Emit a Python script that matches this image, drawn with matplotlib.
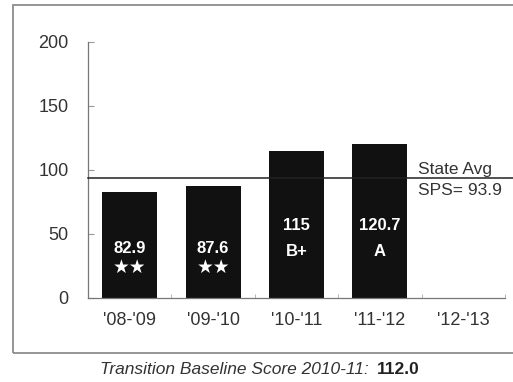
import matplotlib
matplotlib.use("Agg")
import matplotlib.pyplot as plt
from matplotlib.patches import Rectangle

categories = ["'08-'09", "'09-'10", "'10-'11", "'11-'12", "'12-'13"]
values = [82.9, 87.6, 115, 120.7, None]
value_labels = ["82.9", "87.6", "115", "120.7", ""]
grade_labels = ["★★", "★★", "B+", "A", ""]
state_avg = 93.9
yticks = [0, 50, 100, 150, 200]
footer_italic = "Transition Baseline Score 2010-11:"
footer_bold = "112.0"

W, H = 513, 382
plt.rcParams['font.family'] = ['Liberation Sans', 'DejaVu Sans']
fig = plt.figure(figsize=(W / 100, H / 100), dpi=100)

def px(x, y):
    return x / W, 1 - y / H

# outer frame
fig.patches.append(Rectangle(px(13, 353), (530 - 13) / W, (353 - 5) / H,
                             transform=fig.transFigure, fill=False,
                             edgecolor='#8c8c8c', linewidth=1.3, clip_on=True))

ax_l, ax_r, ax_t, ax_b = 88, 505, 42, 298
ax = fig.add_axes([ax_l / W, 1 - ax_b / H, (ax_r - ax_l) / W, (ax_b - ax_t) / H])
ax.set_xlim(-0.5, 4.5)
ax.set_ylim(0, 200)

xs = list(range(len(categories)))
for i, v in enumerate(values):
    if v is None:
        continue
    ax.bar(i, v, width=0.66, color='#111111', zorder=2)

# labels inside bars
for i, (vl, gl) in enumerate(zip(value_labels, grade_labels)):
    if not vl:
        continue
    if gl.startswith("★"):
        ax.text(i, 38.7, vl, ha='center', va='center', color='white',
                fontsize=12, fontweight='bold', zorder=3)
        ax.text(i, 23.8, gl, ha='center', va='center', color='white',
                fontsize=13.5, family='DejaVu Sans', zorder=3)
    else:
        ax.text(i, 56.5, vl, ha='center', va='center', color='white',
                fontsize=12, fontweight='bold', zorder=3)
        ax.text(i, 36.2, gl, ha='center', va='center', color='white',
                fontsize=12, fontweight='bold', zorder=3)

# state average line extends past the axes
ax.plot([-0.5, 4.7], [state_avg, state_avg], color='#222222', lw=1.1,
        clip_on=False, zorder=4)
ax.text(3.46, state_avg + 0.3, "State Avg", ha='left', va='bottom',
        fontsize=12.5, color='#333333')
ax.text(3.46, state_avg - 4.0, f"SPS= {state_avg}", ha='left', va='top',
        fontsize=12.5, color='#333333')

for s in ['top', 'right']:
    ax.spines[s].set_visible(False)
for s in ['left', 'bottom']:
    ax.spines[s].set_color('#777777')
    ax.spines[s].set_linewidth(0.9)

ax.set_yticks(yticks)
ax.set_yticklabels([str(t) for t in yticks])
ax.tick_params(axis='y', direction='in', length=4, pad=14, labelsize=13,
               labelcolor='#333333', color='#999999')
ax.set_xticks(xs)
ax.set_xticklabels(categories)
ax.tick_params(axis='x', which='major', length=0, pad=10, labelsize=13,
               labelcolor='#333333')
ax.set_xticks([x + 0.5 for x in range(-1, 5)], minor=True)
ax.tick_params(axis='x', which='minor', direction='in', length=3,
               color='#aaaaaa')

# footer
t1 = fig.text(100 / W, 1 - 369 / H, footer_italic, ha='left', va='center',
              fontsize=12.5, style='italic', color='#333333')
fig.canvas.draw()
bb = t1.get_window_extent(renderer=fig.canvas.get_renderer())
fig.text((bb.x1 + 8) / W, 1 - 369 / H, footer_bold, ha='left', va='center',
         fontsize=12.5, fontweight='bold', color='#222222')

fig.savefig("out.png", dpi=100)
